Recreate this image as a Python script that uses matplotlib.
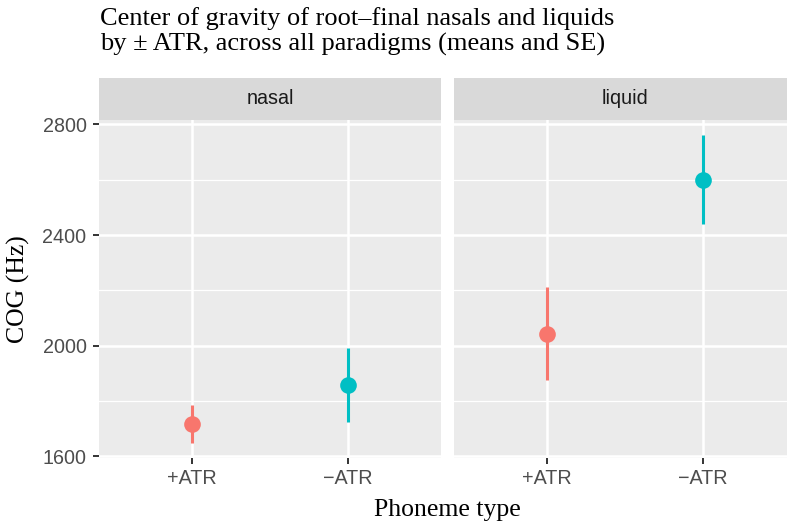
import numpy as np
import matplotlib
matplotlib.use('Agg')
import matplotlib.pyplot as plt

# means and standard errors of COG (Hz) per facet
facets = ['nasal', 'liquid']
atr = ['+ATR', '\u2212ATR']
cog_mean = {'nasal': [1718, 1858], 'liquid': [2044, 2600]}
cog_se = {'nasal': [68, 134], 'liquid': [168, 160]}
colors = ['#F8766D', '#00BFC4']
yticks = [1600, 2000, 2400, 2800]
yminor = [1800, 2200, 2600]
title_lines = ['Center of gravity of root\u2013final nasals and liquids',
               'by \u00b1 ATR, across all paradigms (means and SE)']

W, H = 787, 525
fig = plt.figure(figsize=(W / 100, H / 100), dpi=100)

def px_axes(x0, y0, x1, y1):
    # axes from pixel box (top-left origin)
    return fig.add_axes([x0 / W, 1 - y1 / H, (x1 - x0) / W, (y1 - y0) / H])

lo = min(m - s for f in facets for m, s in zip(cog_mean[f], cog_se[f]))
hi = max(m + s for f in facets for m, s in zip(cog_mean[f], cog_se[f]))
pad = 0.05 * (hi - lo)

panels = [(99, 441), (454, 796)]
for k, f in enumerate(facets):
    x0, x1 = panels[k]
    ax = px_axes(x0, 120, x1, 458)
    ax.set_facecolor('#EBEBEB')
    for sp in ax.spines.values():
        sp.set_visible(False)
    ax.set_xlim(0.4, 2.6)
    ax.set_ylim(lo - pad, hi + pad)
    for y in yminor:
        ax.axhline(y, color='white', lw=0.9, zorder=0)
    for y in yticks:
        ax.axhline(y, color='white', lw=1.8, zorder=0)
    for i in range(2):
        ax.axvline(i + 1, color='white', lw=1.8, zorder=0)
        m, s = cog_mean[f][i], cog_se[f][i]
        ax.plot([i + 1, i + 1], [m - s, m + s], color=colors[i], lw=2.2,
                solid_capstyle='butt', zorder=2)
        ax.plot(i + 1, m, 'o', color=colors[i], ms=12, mec='none', zorder=3)
    ax.set_xticks([1, 2])
    ax.set_xticklabels(atr)
    ax.set_yticks(yticks)
    if k == 0:
        ax.set_yticklabels([str(v) for v in yticks])
        ax.tick_params(axis='y', length=4, width=1.4, color='#333333',
                       labelsize=14.2, labelcolor='#4D4D4D', pad=5)
    else:
        ax.tick_params(axis='y', length=0, labelleft=False)
    ax.tick_params(axis='x', length=4, width=1.4, color='#333333',
                   labelsize=14.2, labelcolor='#4D4D4D', pad=4)
    for lab in ax.get_xticklabels() + ax.get_yticklabels():
        lab.set_family('Liberation Sans')

    # facet strip
    st = px_axes(x0, 78, x1, 120)
    st.set_facecolor('#D9D9D9')
    st.set_xticks([])
    st.set_yticks([])
    for sp in st.spines.values():
        sp.set_visible(False)
    st.text(0.5, 0.5, f, ha='center', va='center', fontsize=14.2,
            family='Liberation Sans', color='#1A1A1A', transform=st.transAxes)

for line, base in zip(title_lines, [25, 51]):
    fig.text(100 / W, 1 - base / H, line, ha='left', va='baseline',
             fontsize=19, family='Liberation Serif')
fig.text(18 / W, 1 - 289 / H, 'COG (Hz)', rotation=90, ha='center',
         va='center', fontsize=18.5, family='Liberation Serif')
fig.text(447 / W, 1 - 510 / H, 'Phoneme type', ha='center', va='center',
         fontsize=18.5, family='Liberation Serif')

plt.savefig('out.png', dpi=100)
